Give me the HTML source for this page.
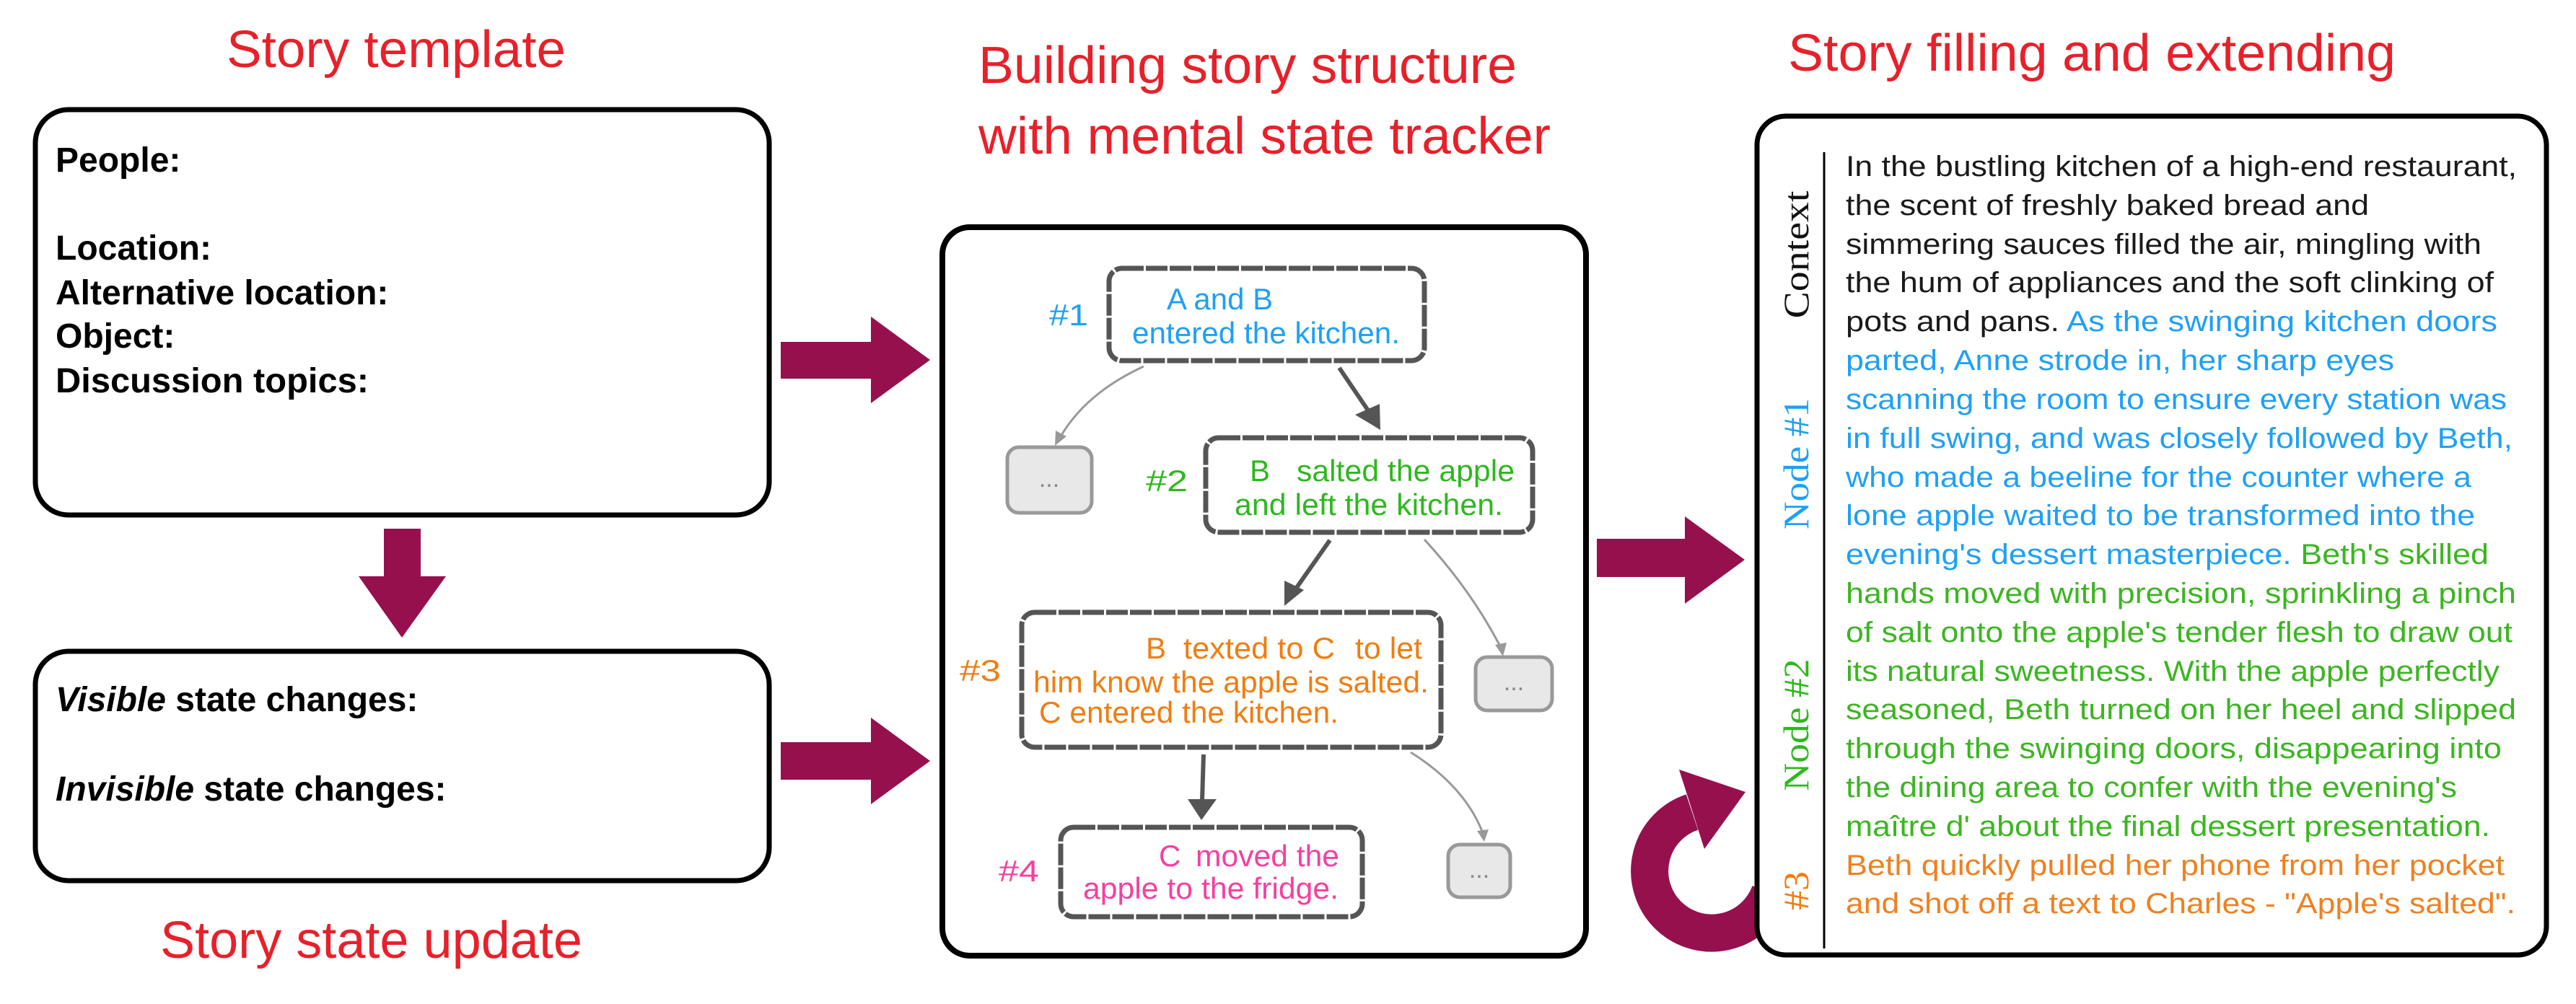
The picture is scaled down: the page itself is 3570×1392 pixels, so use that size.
<!DOCTYPE html>
<html><head><meta charset="utf-8"><style>
html,body{margin:0;padding:0;background:#fff;}
svg{display:block;}
.t{font-family:"Liberation Sans",Arial,sans-serif;}
</style></head><body>
<svg width="3570" height="1392" viewBox="0 0 3570 1392" xmlns="http://www.w3.org/2000/svg" class="t">
<rect width="3570" height="1392" fill="#fff"/>
<!-- titles -->
<g fill="#e8202a" font-size="72" font-family="Liberation Sans, sans-serif">
<text x="314" y="93" textLength="470" lengthAdjust="spacingAndGlyphs">Story template</text>
<text x="1356" y="115" textLength="746" lengthAdjust="spacingAndGlyphs">Building story structure</text>
<text x="1356" y="213" textLength="793" lengthAdjust="spacingAndGlyphs">with mental state tracker</text>
<text x="2478" y="98" textLength="842" lengthAdjust="spacingAndGlyphs">Story filling and extending</text>
<text x="222" y="1328" textLength="585" lengthAdjust="spacingAndGlyphs">Story state update</text>
</g>
<!-- left boxes -->
<rect x="49" y="152" width="1017" height="562" rx="46" fill="#fff" stroke="#000" stroke-width="7"/>
<rect x="49" y="903" width="1017" height="318" rx="46" fill="#fff" stroke="#000" stroke-width="7"/>
<g font-size="48" font-weight="bold" fill="#000">
<text x="77" y="238">People:</text>
<text x="77" y="360">Location:</text>
<text x="77" y="422">Alternative location:</text>
<text x="77" y="482">Object:</text>
<text x="77" y="544" textLength="434" lengthAdjust="spacingAndGlyphs">Discussion topics:</text>
<text x="77" y="986"><tspan font-style="italic">Visible</tspan> state changes:</text>
<text x="77" y="1110"><tspan font-style="italic">Invisible</tspan> state changes:</text>
</g>
<!-- purple arrows -->
<g fill="#96104e">
<polygon points="532,733 583,733 583,799 618,799 557,884 497,799 532,799"/>
<polygon points="1082,474 1207,474 1207,439 1289,499 1207,559 1207,525 1082,525"/>
<polygon points="1082,1029 1207,1029 1207,995 1289,1055 1207,1115 1207,1081 1082,1081"/>
<polygon points="2213,747 2335,747 2335,716 2418,776 2335,837 2335,800 2213,800"/>
<path d="M2453 1237 A86 86 0 1 1 2345 1126" fill="none" stroke="#96104e" stroke-width="52"/>
<polygon points="2327,1067 2419,1098 2362,1177"/>
</g>
<!-- middle box -->
<rect x="1306" y="315" width="892" height="1010" rx="38" fill="#fff" stroke="#000" stroke-width="8"/>
<!-- connectors -->
<g stroke="#999" stroke-width="3" fill="none">
<path d="M1585 508 Q1505 545 1470 605"/>
<path d="M1974 748 Q2040 820 2080 898"/>
<path d="M1955 1043 Q2030 1090 2055 1155"/>
</g>
<g fill="#999">
<polygon points="1462,618 1463,597 1478,605"/>
<polygon points="2083,910 2072,894 2088,891"/>
<polygon points="2057,1167 2047,1152 2063,1150"/>
</g>
<g stroke="#555" stroke-width="6" fill="none">
<line x1="1856" y1="510" x2="1898" y2="572"/>
<line x1="1843" y1="749" x2="1796" y2="816"/>
<line x1="1668" y1="1046" x2="1666" y2="1110"/>
</g>
<g fill="#555">
<polygon points="1913,596 1878,575 1912,560"/>
<polygon points="1780,840 1780,805 1807,818"/>
<polygon points="1665,1137 1646,1108 1686,1108"/>
</g>
<!-- nodes -->
<g fill="#fff" stroke="#555" stroke-width="7" stroke-dasharray="30 3">
<rect x="1537" y="372" width="437" height="128" rx="18"/>
<rect x="1671" y="607" width="453" height="131" rx="18"/>
<rect x="1416" y="849" width="581" height="187" rx="18"/>
<rect x="1470" y="1147" width="418" height="124" rx="18"/>
</g>
<g fill="#e8e8e8" stroke="#999" stroke-width="5">
<rect x="1396" y="620" width="117" height="91" rx="16"/>
<rect x="2045" y="911" width="106" height="74" rx="16"/>
<rect x="2007" y="1171" width="86" height="73" rx="16"/>
</g>
<g fill="#888" font-size="34" text-anchor="middle">
<text x="1454" y="675">...</text>
<text x="2098" y="957">...</text>
<text x="2050" y="1217">...</text>
</g>
<g font-size="42">
<g fill="#1ea0f5">
<text x="1454" y="451" textLength="54" lengthAdjust="spacingAndGlyphs">#1</text>
<text x="1617" y="429">A and B</text>
<text x="1569" y="476" textLength="371" lengthAdjust="spacingAndGlyphs">entered the kitchen.</text>
</g>
<g fill="#2db81e">
<text x="1588" y="681" textLength="58" lengthAdjust="spacingAndGlyphs">#2</text>
<text x="1732" y="667">B</text>
<text x="1797" y="667" textLength="302" lengthAdjust="spacingAndGlyphs">salted the apple</text>
<text x="1711" y="714" textLength="372" lengthAdjust="spacingAndGlyphs">and left the kitchen.</text>
</g>
<g fill="#f07d10">
<text x="1330" y="944" textLength="57" lengthAdjust="spacingAndGlyphs">#3</text>
<text x="1588" y="913">B</text>
<text x="1640" y="913" textLength="210" lengthAdjust="spacingAndGlyphs">texted to C</text>
<text x="1878" y="913" textLength="93" lengthAdjust="spacingAndGlyphs">to let</text>
<text x="1432" y="960" textLength="548" lengthAdjust="spacingAndGlyphs">him know the apple is salted.</text>
<text x="1440" y="1002" textLength="415" lengthAdjust="spacingAndGlyphs">C entered the kitchen.</text>
</g>
<g fill="#f5409e">
<text x="1384" y="1222" textLength="56" lengthAdjust="spacingAndGlyphs">#4</text>
<text x="1606" y="1201">C</text>
<text x="1657" y="1201" textLength="199" lengthAdjust="spacingAndGlyphs">moved the</text>
<text x="1501" y="1246" textLength="354" lengthAdjust="spacingAndGlyphs">apple to the fridge.</text>
</g>
</g>
<!-- right box -->
<rect x="2435" y="161" width="1094" height="1163" rx="40" fill="#fff" stroke="#000" stroke-width="7"/>
<line x1="2528" y1="211" x2="2528" y2="1315" stroke="#000" stroke-width="3"/>
<g font-family="Liberation Serif, serif" font-size="50" text-anchor="middle">
<text transform="translate(2506,353) rotate(-90)" fill="#111" textLength="177" lengthAdjust="spacingAndGlyphs">Context</text>
<text transform="translate(2506,643) rotate(-90)" fill="#1ea0f5" textLength="182" lengthAdjust="spacingAndGlyphs">Node #1</text>
<text transform="translate(2506,1005) rotate(-90)" fill="#2db81e" textLength="183" lengthAdjust="spacingAndGlyphs">Node #2</text>
<text transform="translate(2506,1235) rotate(-90)" fill="#f07d10" textLength="54" lengthAdjust="spacingAndGlyphs">#3</text>
</g>
<g font-size="40" fill="#1a1a1a">
<text x="2558" y="244" textLength="930" lengthAdjust="spacingAndGlyphs">In the bustling kitchen of a high-end restaurant,</text>
<text x="2558" y="298" textLength="725" lengthAdjust="spacingAndGlyphs">the scent of freshly baked bread and</text>
<text x="2558" y="352" textLength="881" lengthAdjust="spacingAndGlyphs">simmering sauces filled the air, mingling with</text>
<text x="2558" y="405" textLength="898" lengthAdjust="spacingAndGlyphs">the hum of appliances and the soft clinking of</text>
<text x="2558" y="459" textLength="903" lengthAdjust="spacingAndGlyphs">pots and pans. <tspan fill="#1ea0f5">As the swinging kitchen doors</tspan></text>
<g fill="#1ea0f5">
<text x="2558" y="513" textLength="760" lengthAdjust="spacingAndGlyphs">parted, Anne strode in, her sharp eyes</text>
<text x="2558" y="567" textLength="916" lengthAdjust="spacingAndGlyphs">scanning the room to ensure every station was</text>
<text x="2558" y="621" textLength="924" lengthAdjust="spacingAndGlyphs">in full swing, and was closely followed by Beth,</text>
<text x="2558" y="675" textLength="867" lengthAdjust="spacingAndGlyphs">who made a beeline for the counter where a</text>
<text x="2558" y="728" textLength="872" lengthAdjust="spacingAndGlyphs">lone apple waited to be transformed into the</text>
<text x="2558" y="782" textLength="891" lengthAdjust="spacingAndGlyphs">evening's dessert masterpiece. <tspan fill="#3cb521">Beth's skilled</tspan></text>
</g>
<g fill="#3cb521">
<text x="2558" y="836" textLength="929" lengthAdjust="spacingAndGlyphs">hands moved with precision, sprinkling a pinch</text>
<text x="2558" y="890" textLength="924" lengthAdjust="spacingAndGlyphs">of salt onto the apple's tender flesh to draw out</text>
<text x="2558" y="944" textLength="906" lengthAdjust="spacingAndGlyphs">its natural sweetness. With the apple perfectly</text>
<text x="2558" y="997" textLength="929" lengthAdjust="spacingAndGlyphs">seasoned, Beth turned on her heel and slipped</text>
<text x="2558" y="1051" textLength="909" lengthAdjust="spacingAndGlyphs">through the swinging doors, disappearing into</text>
<text x="2558" y="1105" textLength="847" lengthAdjust="spacingAndGlyphs">the dining area to confer with the evening's</text>
<text x="2558" y="1159" textLength="893" lengthAdjust="spacingAndGlyphs">maître d' about the final dessert presentation.</text>
</g>
<g fill="#f08020">
<text x="2558" y="1213" textLength="913" lengthAdjust="spacingAndGlyphs">Beth quickly pulled her phone from her pocket</text>
<text x="2558" y="1266" textLength="928" lengthAdjust="spacingAndGlyphs">and shot off a text to Charles - "Apple's salted".</text>
</g>
</g>
</svg>
</body></html>
